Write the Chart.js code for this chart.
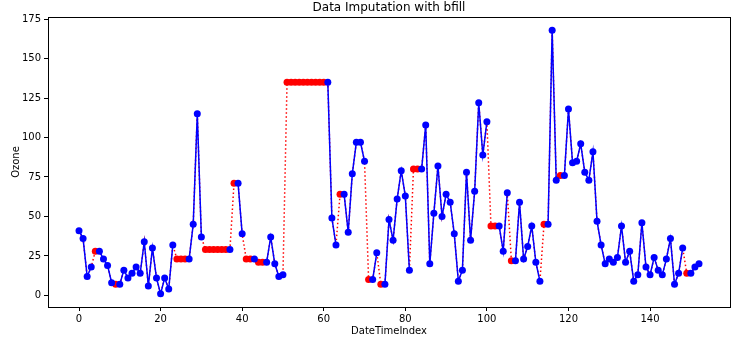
<!DOCTYPE html>
<html>
<head>
<meta charset="utf-8">
<script src="https://cdn.jsdelivr.net/npm/chart.js@4.4.0/dist/chart.umd.min.js"></script>
<style>
  body { margin: 0; background: #fff; }
</style>
</head>
<body>
<canvas id="imputation-chart" width="741" height="341"></canvas>
<script>
// original Ozone readings (null = missing)
const ozoneObserved = [
    41, 36, 12, 18, null, 28, 23, 19, 8, null,
    7, 16, 11, 14, 18, 14, 34, 6, 30, 11,
    1, 11, 4, 32, null, null, null, 23, 45, 115,
    37, null, null, null, null, null, null, 29, null, 71,
    39, null, null, 23, null, null, 21, 37, 20, 12,
    13, null, null, null, null, null, null, null, null, null,
    null, 135, 49, 32, null, 64, 40, 77, 97, 97,
    85, null, 10, 27, null, 7, 48, 35, 61, 79,
    63, 16, null, null, 80, 108, 20, 52, 82, 50,
    64, 59, 39, 9, 16, 78, 35, 66, 122, 89,
    110, null, null, 44, 28, 65, null, 22, 59, 23,
    31, 44, 21, 9, null, 45, 168, 73, null, 76,
    118, 84, 85, 96, 78, 73, 91, 47, 32, 20,
    23, 21, 24, 44, 21, 28, 9, 13, 46, 18,
    13, 24, 16, 13, 23, 36, 7, 14, 30, null,
    14, 18, 20
];

// series after backward fill
const ozoneFilled = [
    41, 36, 12, 18, 28, 28, 23, 19, 8, 7,
    7, 16, 11, 14, 18, 14, 34, 6, 30, 11,
    1, 11, 4, 32, 23, 23, 23, 23, 45, 115,
    37, 29, 29, 29, 29, 29, 29, 29, 71, 71,
    39, 23, 23, 23, 21, 21, 21, 37, 20, 12,
    13, 135, 135, 135, 135, 135, 135, 135, 135, 135,
    135, 135, 49, 32, 64, 64, 40, 77, 97, 97,
    85, 10, 10, 27, 7, 7, 48, 35, 61, 79,
    63, 16, 80, 80, 80, 108, 20, 52, 82, 50,
    64, 59, 39, 9, 16, 78, 35, 66, 122, 89,
    110, 44, 44, 44, 28, 65, 22, 22, 59, 23,
    31, 44, 21, 9, 45, 45, 168, 73, 76, 76,
    118, 84, 85, 96, 78, 73, 91, 47, 32, 20,
    23, 21, 24, 44, 21, 28, 9, 13, 46, 18,
    13, 24, 16, 13, 23, 36, 7, 14, 30, 14,
    14, 18, 20
];

const xTicks = [0, 20, 40, 60, 80, 100, 120, 140];
const yTicks = [0, 25, 50, 75, 100, 125, 150, 175];

const FONT = 'DejaVu Sans';

const observedPoints = ozoneObserved.map((v, i) => ({ x: i, y: v }));
const filledPoints = ozoneFilled.map((v, i) => ({ x: i, y: v }));
const filledRadius = ozoneObserved.map(v => v === null ? 3.5 : 0);

const frameAndTitle = {
    id: 'frameAndTitle',
    afterDraw(chart) {
        const { ctx, chartArea } = chart;
        ctx.save();
        ctx.strokeStyle = '#000';
        ctx.lineWidth = 1;
        ctx.strokeRect(Math.round(chartArea.left) + 0.5, Math.round(chartArea.top) + 0.5,
            Math.round(chartArea.right - chartArea.left), Math.round(chartArea.bottom - chartArea.top));
        ctx.fillStyle = '#000';
        ctx.font = '12px "' + FONT + '"';
        ctx.textAlign = 'center';
        ctx.textBaseline = 'middle';
        ctx.fillText('Data Imputation with bfill', (chartArea.left + chartArea.right) / 2, 8);
        ctx.restore();
    }
};

const ctx = document.getElementById('imputation-chart').getContext('2d');
new Chart(ctx, {
    type: 'line',
    data: {
        datasets: [{
            label: 'Observed',
            data: observedPoints,
            borderColor: '#0000ff',
            backgroundColor: '#0000ff',
            borderWidth: 1.5,
            pointRadius: 3.5,
            pointBorderWidth: 0,
            pointHoverRadius: 3.5,
            spanGaps: false,
            tension: 0
        }, {
            label: 'Imputed',
            data: filledPoints,
            borderColor: '#ff0000',
            backgroundColor: '#ff0000',
            borderWidth: 1.5,
            borderDash: [1.5, 2.5],
            pointRadius: filledRadius,
            pointBorderWidth: 0,
            tension: 0
        }]
    },
    options: {
        responsive: false,
        animation: false,
        layout: { padding: { top: 17, right: 11, left: 0, bottom: 4 } },
        plugins: {
            legend: { display: false },
            title: { display: false },
            tooltip: { enabled: false }
        },
        scales: {
            x: {
                type: 'linear',
                min: -7.6,
                max: 159.6,
                afterBuildTicks: scale => { scale.ticks = xTicks.map(v => ({ value: v })); },
                afterFit: scale => { scale.height = 30; },
                grid: { drawOnChartArea: false, drawTicks: true, tickLength: 4, color: '#000' },
                border: { display: false },
                ticks: { color: '#000', font: { family: FONT, size: 10 }, padding: 2, maxRotation: 0 },
                title: { display: true, text: 'DateTimeIndex', color: '#000', font: { family: FONT, size: 10 }, padding: { top: 0, bottom: 0 } }
            },
            y: {
                min: -7.35,
                max: 176.35,
                afterBuildTicks: scale => { scale.ticks = yTicks.map(v => ({ value: v })); },
                afterFit: scale => { scale.width = 48; },
                grid: { drawOnChartArea: false, drawTicks: true, tickLength: 4, color: '#000' },
                border: { display: false },
                ticks: { color: '#000', font: { family: FONT, size: 10 }, padding: 3 },
                title: { display: true, text: 'Ozone', color: '#000', font: { family: FONT, size: 10 }, padding: { top: 10, bottom: 0 } }
            }
        }
    },
    plugins: [frameAndTitle]
});
</script>
</body>
</html>
